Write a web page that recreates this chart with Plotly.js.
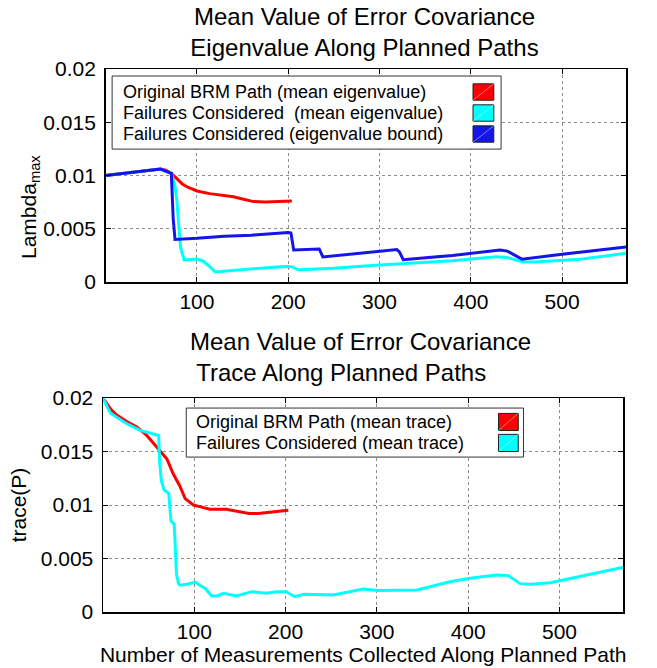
<!DOCTYPE html>
<html>
<head>
<meta charset="utf-8">
<script src="https://cdn.plot.ly/plotly-3.0.1.min.js"></script>
<style>html,body{margin:0;padding:0;background:#fff;}#chart{width:657px;height:668px;}</style>
</head>
<body>
<div id="chart"></div>
<script>
// ---------- DATA ----------
// Top panel: mean eigenvalue (Lambda_max)
const topRedX = [0, 20, 40, 60, 66, 72, 78, 84, 90, 100, 114, 130, 140, 150, 162, 175, 184, 195, 204];
const topRedY = [0.0100, 0.0102, 0.0104, 0.0106, 0.0105, 0.0102, 0.0097, 0.0092, 0.0089, 0.00855, 0.0083, 0.0081, 0.0080, 0.0078, 0.00755, 0.00752, 0.00755, 0.0076, 0.0076];

const topCyanX = [0, 20, 40, 60, 72, 76, 78, 80, 82, 86, 100, 106, 112, 120, 140, 170, 191, 200, 205, 211, 250, 300, 322, 380, 428, 440, 456, 470, 520, 570];
const topCyanY = [0.0100, 0.0102, 0.0104, 0.0106, 0.0102, 0.0090, 0.0077, 0.0050, 0.0033, 0.00207, 0.00215, 0.0020, 0.0016, 0.00095, 0.0011, 0.0013, 0.00144, 0.00145, 0.0014, 0.00115, 0.0013, 0.0016, 0.00172, 0.0020, 0.00238, 0.0023, 0.0019, 0.00188, 0.00213, 0.0027];

const topBlueX = [0, 20, 40, 60, 72, 74, 76, 100, 130, 160, 200, 203, 206, 230, 234, 238, 280, 319, 322, 326, 380, 432, 440, 448, 456, 500, 570];
const topBlueY = [0.0100, 0.0102, 0.0104, 0.0106, 0.0102, 0.0060, 0.0040, 0.0041, 0.0043, 0.0044, 0.00465, 0.0046, 0.0030, 0.0031, 0.0031, 0.00235, 0.0027, 0.00305, 0.0028, 0.0021, 0.0025, 0.0030, 0.0029, 0.0025, 0.00215, 0.0026, 0.0033];

// Bottom panel: mean trace(P)
const botRedX = [0, 4, 8, 15, 26, 37, 48, 60, 70, 77, 84, 90, 99, 108, 117, 135, 150, 160, 170, 180, 192, 203];
const botRedY = [0.0200, 0.0195, 0.0190, 0.0184, 0.0178, 0.0173, 0.0165, 0.0153, 0.0143, 0.0129, 0.0118, 0.0106, 0.0100, 0.0098, 0.0096, 0.0096, 0.0094, 0.0092, 0.0092, 0.0093, 0.0094, 0.0095];

const botCyanX = [0, 4, 8, 15, 26, 40, 52, 61, 62, 64, 67, 72, 73, 74.5, 78, 79, 80.5, 83, 85, 92, 101, 106, 112, 119, 125, 132, 146, 163, 179, 190, 201, 210, 220, 252, 285, 300, 344, 380, 402, 431, 444, 457, 468, 490, 523, 570];
const botCyanY = [0.0200, 0.0193, 0.0186, 0.0182, 0.0176, 0.0170, 0.0167, 0.0165, 0.0140, 0.0122, 0.0114, 0.0111, 0.0100, 0.0085, 0.0082, 0.0060, 0.0035, 0.0026, 0.0025, 0.0026, 0.0028, 0.0025, 0.0022, 0.0015, 0.0015, 0.00175, 0.0015, 0.0019, 0.00175, 0.0019, 0.0019, 0.00143, 0.00165, 0.0016, 0.00215, 0.0020, 0.00206, 0.00283, 0.00315, 0.00346, 0.0034, 0.00265, 0.0026, 0.00274, 0.00336, 0.00418];

// Legend labels
const topNames = ['Original BRM Path (mean eigenvalue)', 'Failures Considered  (mean eigenvalue)', 'Failures Considered (eigenvalue bound)'];
const botNames = ['Original BRM Path (mean trace)', 'Failures Considered (mean trace)'];

// Tick labels
const xTickVals = [100, 200, 300, 400, 500];
const xTickText = ['100', '200', '300', '400', '500'];
const yTickVals = [0, 0.005, 0.01, 0.015, 0.02];
const yTickText = ['0', '0.005', '0.01', '0.015', '0.02'];

// ---------- STYLE ----------
const RED = 'rgb(255,0,0)';
const CYAN = 'rgb(0,255,255)';
const BLUE = 'rgb(20,20,235)';
const FONT = 'Liberation Sans, Arial, Helvetica, sans-serif';
const topColors = [RED, CYAN, BLUE];
const botColors = [RED, CYAN];

function line(x, y, color, xa, ya) {
  return {x: x, y: y, type: 'scatter', mode: 'lines', xaxis: xa, yaxis: ya,
          line: {color: color, width: 3}, showlegend: false, hoverinfo: 'skip'};
}

const data = [
  line(topRedX, topRedY, RED, 'x', 'y'),
  line(topCyanX, topCyanY, CYAN, 'x', 'y'),
  line(topBlueX, topBlueY, BLUE, 'x', 'y'),
  line(botRedX, botRedY, RED, 'x2', 'y2'),
  line(botCyanX, botCyanY, CYAN, 'x2', 'y2')
];

const GRID = {showgrid: true, gridcolor: 'rgba(0,0,0,0.45)', griddash: 'dot', gridwidth: 1};

function xAxis(domain, anchor) {
  return Object.assign({domain: domain, anchor: anchor, range: [0, 570], tickvals: xTickVals, ticktext: xTickText,
          ticks: 'inside', ticklen: 5, tickcolor: '#000', showline: true, linecolor: '#000', linewidth: 1.5,
          mirror: 'ticks', zeroline: false, tickfont: {family: FONT, size: 21, color: '#000'}, fixedrange: true}, GRID);
}
function yAxis(domain, anchor) {
  return Object.assign({domain: domain, anchor: anchor, range: [0, 0.02], tickvals: yTickVals, ticktext: yTickText,
          ticks: 'inside', ticklen: 5, tickcolor: '#000', showline: true, linecolor: '#000', linewidth: 1.5,
          mirror: 'ticks', zeroline: false, tickfont: {family: FONT, size: 21, color: '#000'}, fixedrange: true,
          ticklabelstandoff: 4}, GRID);
}

// Legend builder (text on the left, colour patch on the right, like the original)
function buildLegend(names, colors, xa, ya, box, textX, rowY, rowStep, patchX0, patchX1, patchH) {
  const shapes = [], annos = [];
  shapes.push({type: 'rect', xref: xa + ' domain', yref: ya + ' domain', x0: box[0], x1: box[1], y0: box[2], y1: box[3],
               line: {color: '#333', width: 1}, fillcolor: '#fff', layer: 'above'});
  names.forEach(function (n, i) {
    const yc = rowY - i * rowStep;
    annos.push({xref: xa + ' domain', yref: ya + ' domain', x: textX, y: yc, xanchor: 'left', yanchor: 'middle',
                text: n, showarrow: false, font: {family: FONT, size: 18, color: '#000'}});
    shapes.push({type: 'rect', xref: xa + ' domain', yref: ya + ' domain', x0: patchX0, x1: patchX1,
                 y0: yc - patchH / 2, y1: yc + patchH / 2, line: {color: '#222', width: 1},
                 fillcolor: colors[i], layer: 'above'});
    shapes.push({type: 'line', xref: xa + ' domain', yref: ya + ' domain', x0: patchX0, x1: patchX1,
                 y0: yc - patchH / 2, y1: yc + patchH / 2, line: {color: 'rgba(255,255,255,0.45)', width: 1},
                 layer: 'above'});
  });
  return {shapes: shapes, annos: annos};
}

const legTop = buildLegend(topNames, topColors, 'x', 'y', [0.0125, 0.760, 0.624, 0.967], 0.030, 0.892, 0.0986, 0.706, 0.746, 0.077);
const legBot = buildLegend(botNames, botColors, 'x2', 'y2', [0.160, 0.808, 0.724, 0.953], 0.175, 0.888, 0.098, 0.760, 0.798, 0.080);

const layout = {
  width: 657, height: 668,
  margin: {l: 103, r: 31, t: 69, b: 56},
  paper_bgcolor: '#fff', plot_bgcolor: '#fff',
  font: {family: FONT, color: '#000'},
  title: {text: 'Mean Value of Error Covariance<br>Eigenvalue Along Planned Paths',
          font: {family: FONT, size: 24, color: '#000'}, x: 0.5, xref: 'paper', xanchor: 'center',
          y: 1 - 25 / 668, yref: 'container', yanchor: 'middle'},
  xaxis: xAxis([0.005, 1], 'y'),
  yaxis: yAxis([0.6077, 1], 'x'),
  xaxis2: Object.assign(xAxis([0, 0.995], 'y2'), {
    title: {text: 'Number of Measurements Collected Along Planned Path', font: {family: FONT, size: 21, color: '#000'}, standoff: 0}
  }),
  yaxis2: Object.assign(yAxis([0, 0.3941], 'x2'), {
    title: {text: 'trace(P)', font: {family: FONT, size: 21, color: '#000'}, standoff: 8}
  }),
  shapes: legTop.shapes.concat(legBot.shapes),
  annotations: [
    {xref: 'paper', yref: 'paper', x: (188 - 103) / 523, y: (612 - 357) / 543, xanchor: 'left', yanchor: 'middle',
     align: 'left', text: 'Mean Value of Error Covariance<br> Trace Along Planned Paths', showarrow: false,
     font: {family: FONT, size: 24, color: '#000'}},
    {xref: 'paper', yref: 'paper', x: (30 - 103) / 523, y: (612 - 207) / 543, xanchor: 'center', yanchor: 'middle',
     textangle: -90, text: 'Lambda<sub>max</sub>', showarrow: false,
     font: {family: FONT, size: 21, color: '#000'}}
  ].concat(legTop.annos, legBot.annos),
  showlegend: false
};

Plotly.newPlot('chart', data, layout, {displayModeBar: false, staticPlot: true});
</script>
</body>
</html>
